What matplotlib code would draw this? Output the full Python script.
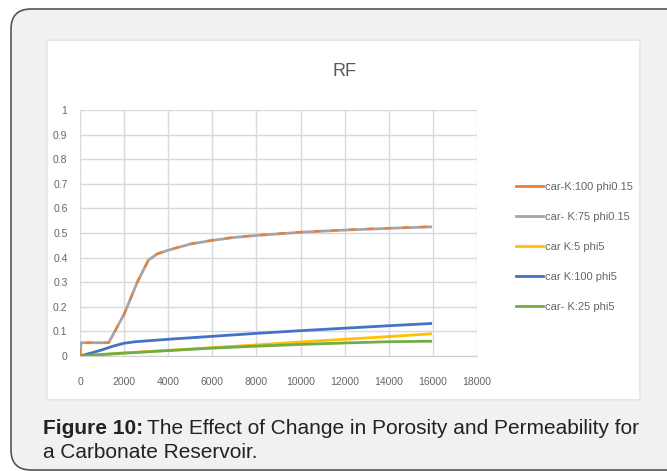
import matplotlib
matplotlib.use('Agg')
import matplotlib.pyplot as plt
from matplotlib.patches import FancyBboxPatch, Rectangle
from matplotlib.transforms import IdentityTransform
from matplotlib import font_manager

# data
time_days = [0, 50, 1300, 2000, 2600, 3100, 3500, 4000, 5000, 6000, 7000, 8000, 10000, 12000, 14000, 15900]
rf_k100_phi015 = [0, 0.054, 0.054, 0.17, 0.30, 0.39, 0.415, 0.431, 0.456, 0.471, 0.483, 0.491, 0.504, 0.513, 0.520, 0.526]
rf_k75_phi015 = [0, 0.054, 0.054, 0.17, 0.30, 0.39, 0.415, 0.430, 0.455, 0.470, 0.482, 0.490, 0.503, 0.512, 0.519, 0.525]

time_low = [0, 500, 1000, 1500, 2000, 2500, 4000, 6000, 8000, 10000, 12000, 14000, 15900]
rf_k5_phi5 = [0, 0.003, 0.006, 0.009, 0.012, 0.015, 0.023, 0.034, 0.045, 0.057, 0.068, 0.079, 0.090]
rf_k100_phi5 = [0, 0.012, 0.025, 0.040, 0.052, 0.058, 0.068, 0.080, 0.092, 0.103, 0.113, 0.123, 0.132]
rf_k25_phi5 = [0, 0.003, 0.006, 0.009, 0.012, 0.014, 0.022, 0.032, 0.040, 0.047, 0.053, 0.058, 0.060]

labels = ['car-K:100 phi0.15', 'car- K:75 phi0.15', 'car K:5 phi5', 'car K:100 phi5', 'car- K:25 phi5']
colors = ['#ED7D31', '#A5A5A5', '#FFC000', '#4472C4', '#70AD47']

x_ticks = list(range(0, 18001, 2000))
y_ticks = [0, 0.1, 0.2, 0.3, 0.4, 0.5, 0.6, 0.7, 0.8, 0.9, 1]
y_tick_labels = ['0', '0.1', '0.2', '0.3', '0.4', '0.5', '0.6', '0.7', '0.8', '0.9', '1']

installed = {f.name for f in font_manager.fontManager.ttflist}
narrow = 'Liberation Sans Narrow' if 'Liberation Sans Narrow' in installed else 'Liberation Sans'
plain = 'Liberation Sans' if 'Liberation Sans' in installed else 'DejaVu Sans'

W, H = 667, 471
fig = plt.figure(figsize=(W / 100, H / 100), dpi=100)
fig.patch.set_facecolor('white')

# outer rounded box (pixel coords, origin bottom-left)
outer = FancyBboxPatch((11, 1), 700, H - 10, boxstyle='round,pad=0,rounding_size=20',
                       transform=IdentityTransform(), facecolor='#f0f1f3',
                       edgecolor='#555555', linewidth=1.2, zorder=-10)
fig.patches.append(outer)
# white chart panel
panel = Rectangle((47, H - 400), 593, 360, transform=IdentityTransform(),
                  facecolor='white', edgecolor='#e8e8e8', linewidth=1.5, zorder=-9)
fig.patches.append(panel)

ax = fig.add_axes([80 / W, (H - 356) / H, (477 - 80) / W, (356 - 110) / H])
ax.set_facecolor('white')

ax.plot(time_days, rf_k75_phi015, color=colors[1], lw=2, zorder=3)
ax.plot(time_days, rf_k100_phi015, color=colors[0], lw=1.6, label=labels[0], zorder=4,
        dashes=(3, 5))
ax.plot([], [], color=colors[1], lw=2, label=labels[1])
ax.plot(time_low, rf_k5_phi5, color=colors[2], lw=2, label=labels[2], zorder=3)
ax.plot(time_low, rf_k100_phi5, color=colors[3], lw=2, label=labels[3], zorder=3)
ax.plot(time_low, rf_k25_phi5, color=colors[4], lw=2, label=labels[4], zorder=3)

ax.set_xlim(0, 18000)
ax.set_ylim(0, 1)
ax.set_xticks(x_ticks)
ax.set_xticklabels([str(t) for t in x_ticks])
ax.set_yticks(y_ticks)
ax.set_yticklabels(y_tick_labels)
ax.grid(True, color='#d9d9d9', lw=1)
ax.set_axisbelow(True)
for s in ['top', 'right', 'left']:
    ax.spines[s].set_visible(False)
ax.spines['bottom'].set_color('#d0d0d0')
ax.tick_params(length=0, labelsize=7.5, labelcolor='#666666')
ax.tick_params(axis='x', pad=15)
ax.tick_params(axis='y', pad=9)
for lab in ax.get_xticklabels() + ax.get_yticklabels():
    lab.set_fontfamily(narrow)

handles, labs = ax.get_legend_handles_labels()
leg = fig.legend(handles, labs, loc='upper left', bbox_to_anchor=(510 / W, 1 - 176 / H),
                 frameon=False, handlelength=2.5, handletextpad=0.15,
                 labelspacing=1.8, borderpad=0, prop={'family': narrow, 'size': 8})
for t in leg.get_texts():
    t.set_color('#666666')
for lh in leg.get_lines():
    lh.set_linestyle('-')
    lh.set_linewidth(2)

fig.text(345 / W, 1 - 72 / H, 'RF', ha='center', va='center', fontsize=13,
         color='#595959', family=narrow)

# caption
fig.canvas.draw()
renderer = fig.canvas.get_renderer()
bold = fig.text(43 / W, 1 - 428 / H, 'Figure 10:', ha='left', va='center', fontsize=15,
                weight='bold', color='#222222', family=plain)
bb = bold.get_window_extent(renderer)
fig.text((bb.x1 + 4) / W, 1 - 428 / H, 'The Effect of Change in Porosity and Permeability for',
         ha='left', va='center', fontsize=15, color='#222222', family=plain)
fig.text(43 / W, 1 - 453 / H, 'a Carbonate Reservoir.', ha='left', va='center',
         fontsize=15, color='#222222', family=plain)

fig.savefig('out.png', dpi=100)
